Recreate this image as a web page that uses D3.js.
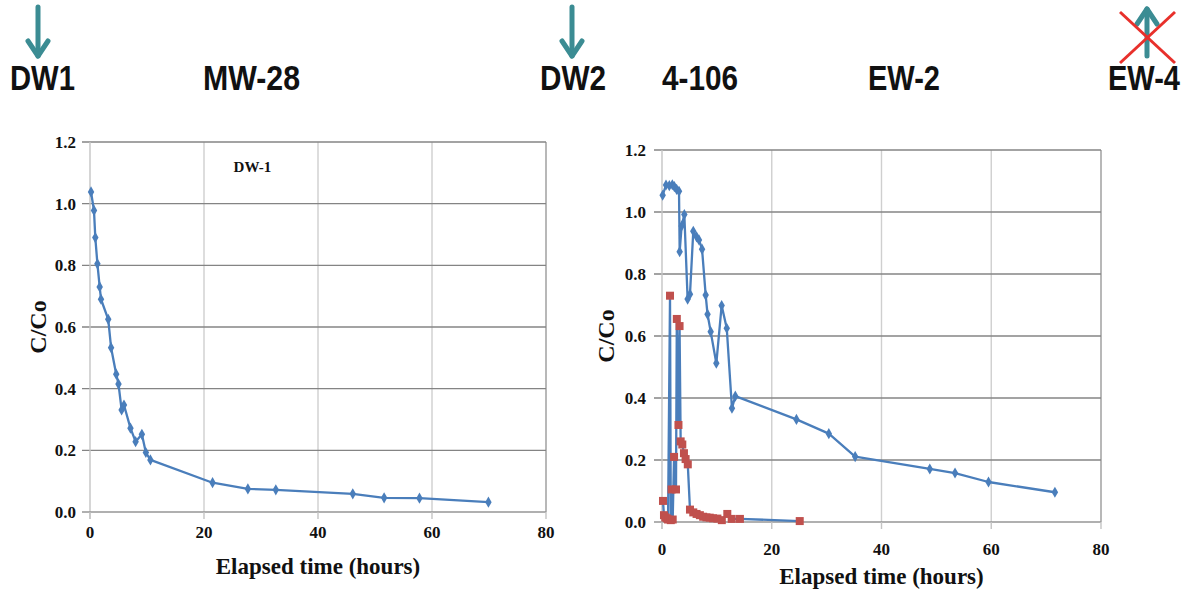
<!DOCTYPE html>
<html><head><meta charset="utf-8">
<script src="https://cdn.jsdelivr.net/npm/d3@7"></script>
<style>html,body{margin:0;padding:0;background:#fff;}svg{display:block;}</style>
</head><body>
<svg id="c" width="1192" height="594"></svg>
<script>
// ---- data ----
const dw1X = [0.18,0.7,0.93,1.3,1.7,1.93,3.2,3.7,4.6,5.0,5.55,5.96,7.1,8.0,9.1,9.8,10.6,21.5,27.7,32.6,46.1,51.6,57.8,69.9];
const dw1Y = [1.038,0.978,0.89,0.805,0.73,0.69,0.625,0.533,0.447,0.415,0.331,0.347,0.272,0.228,0.252,0.193,0.169,0.095,0.075,0.072,0.059,0.046,0.045,0.032];

const dw2X = [0.12,0.73,1.33,1.88,2.25,2.67,3.1,3.22,3.58,4.07,4.67,5.1,5.7,6.3,6.74,7.3,7.96,8.3,8.87,9.9,10.87,11.8,12.75,13.36,24.5,30.4,35.2,48.8,53.4,59.5,71.6];
const dw2Y = [1.054,1.087,1.085,1.088,1.082,1.073,1.067,0.872,0.955,0.992,0.719,0.735,0.938,0.92,0.91,0.88,0.732,0.67,0.614,0.512,0.698,0.625,0.367,0.406,0.331,0.285,0.211,0.171,0.158,0.129,0.096];

const redX = [0.18,0.36,0.6,0.85,1.1,1.46,1.6,1.75,1.95,2.2,2.55,2.7,3.0,3.2,3.4,3.7,4.0,4.3,4.7,5.1,5.7,6.3,6.9,7.5,8.1,8.7,9.3,10.1,10.9,11.9,12.7,14.2,25.1];
const redY = [0.068,0.022,0.015,0.012,0.008,0.73,0.006,0.105,0.008,0.21,0.105,0.655,0.313,0.632,0.26,0.25,0.222,0.203,0.186,0.04,0.031,0.026,0.022,0.017,0.015,0.014,0.012,0.011,0.006,0.026,0.01,0.01,0.003];

const xTicks = [0,20,40,60,80];
const yTicks = [0,0.2,0.4,0.6,0.8,1.0,1.2];
const topLabels = ["DW1","MW-28","DW2","4-106","EW-2","EW-4"];

// ---- drawing ----
const svg = d3.select("#c");
const blue = "#4a7ebb", red = "#c0504d", teal = "#3b8c93";
const serif = "'Liberation Serif','Times New Roman',serif";
const sans = "'Liberation Sans',Arial,sans-serif";

// top labels
const labelPos = [[10,65],[203,97],[540,66],[662,76],[868,72],[1108,72]];
topLabels.forEach((t,i)=>{
  svg.append("g").attr("transform",`translate(${labelPos[i][0]},90) scale(1,1.18)`)
    .append("text").attr("x",0).attr("y",0)
    .attr("font-family",sans).attr("font-weight","bold").attr("font-size",30)
    .attr("textLength",labelPos[i][1]).attr("lengthAdjust","spacingAndGlyphs")
    .attr("fill","#111").text(t);
});
// arrows
function arrow(x,y1,y2){
  const g = svg.append("g").attr("stroke",teal).attr("stroke-width",5).attr("fill","none").attr("stroke-linecap","round").attr("stroke-linejoin","round");
  g.append("line").attr("x1",x).attr("x2",x).attr("y1",y1).attr("y2",y2);
  const d = y2>y1?-1:1;
  g.append("path").attr("d",`M${x-10},${y2+d*15}L${x},${y2}L${x+10},${y2+d*15}`);
}
arrow(38,7,56);
arrow(572,7,56);
arrow(1147,56,9);
svg.append("g").attr("stroke","#e8302b").attr("stroke-width",3)
  .call(g=>{g.append("line").attr("x1",1120).attr("y1",12).attr("x2",1175).attr("y2",63);
            g.append("line").attr("x1",1175).attr("y1",12).attr("x2",1120).attr("y2",63);});

function chart(cfg){
  const x = d3.scaleLinear().domain([0,80]).range([cfg.x0,cfg.x1]);
  const y = d3.scaleLinear().domain([0,1.2]).range([cfg.y0,cfg.y1]);
  const g = svg.append("g");
  g.selectAll(".vg").data(xTicks.slice(1)).join("line")
    .attr("x1",d=>x(d)).attr("x2",d=>x(d)).attr("y1",y(1.2)).attr("y2",y(0))
    .attr("stroke",d=>d===80?"#9a9a9a":"#cfcfcf").attr("stroke-width",1.4);
  g.selectAll(".hg").data(yTicks.slice(1)).join("line")
    .attr("x1",x(0)-8).attr("x2",x(80)).attr("y1",d=>y(d)).attr("y2",d=>y(d))
    .attr("stroke","#848484").attr("stroke-width",1.4);
  g.append("line").attr("x1",x(0)).attr("x2",x(0)).attr("y1",y(1.2)).attr("y2",y(0)+7)
    .attr("stroke","#c4c4c4").attr("stroke-width",1.4);
  g.append("line").attr("x1",x(0)-8).attr("x2",x(80)).attr("y1",y(0)).attr("y2",y(0))
    .attr("stroke","#969696").attr("stroke-width",1.4);
  g.selectAll(".xt").data(xTicks).join("line")
    .attr("x1",d=>x(d)).attr("x2",d=>x(d)).attr("y1",y(0)).attr("y2",y(0)+7)
    .attr("stroke","#c4c4c4").attr("stroke-width",1.4);
  g.selectAll(".xl").data(xTicks).join("text")
    .attr("x",d=>x(d)).attr("y",y(0)+cfg.xlOff).attr("text-anchor","middle")
    .attr("font-family",serif).attr("font-weight","bold").attr("font-size",17).attr("fill","#111")
    .text(d=>d);
  g.selectAll(".yl").data(yTicks).join("text")
    .attr("x",x(0)-cfg.ylOff).attr("y",d=>y(d)+6).attr("text-anchor","end")
    .attr("font-family",serif).attr("font-weight","bold").attr("font-size",17).attr("fill","#111")
    .text(d=>d.toFixed(1));
  g.append("text").attr("x",(x(0)+x(80))/2).attr("y",cfg.xtY).attr("text-anchor","middle")
    .attr("font-family",serif).attr("font-weight","bold").attr("font-size",23).attr("fill","#111")
    .text("Elapsed time (hours)");
  g.append("text").attr("transform",`translate(${cfg.ytX},${(y(0)+y(1.2))/2}) rotate(-90)`)
    .attr("text-anchor","middle")
    .attr("font-family",serif).attr("font-weight","bold").attr("font-size",24).attr("fill","#111")
    .text("C/Co");
  const line = d3.line().x(d=>x(d[0])).y(d=>y(d[1]));
  cfg.series.forEach(s=>{
    const pts = s.x.map((v,i)=>[v,s.y[i]]);
    g.append("path").attr("d",line(pts)).attr("fill","none").attr("stroke",blue).attr("stroke-width",2.3).attr("stroke-linejoin","round");
    if(s.marker==="diamond"){
      g.selectAll(null).data(pts).join("path")
        .attr("d",d3.symbol().type(d3.symbolDiamond).size(36))
        .attr("transform",d=>`translate(${x(d[0])},${y(d[1])})`).attr("fill",blue);
    } else {
      g.selectAll(null).data(pts).join("rect")
        .attr("x",d=>x(d[0])-4).attr("y",d=>y(d[1])-4).attr("width",8).attr("height",8)
        .attr("fill",red);
    }
  });
  return {g,x,y};
}

const left = chart({x0:90,x1:546,y0:512,y1:142,xlOff:26,ylOff:14,xtY:574,ytX:46,
  series:[{x:dw1X,y:dw1Y,marker:"diamond"}]});
left.g.append("text").attr("x",left.x(28.5)).attr("y",left.y(1.12)+5).attr("text-anchor","middle")
  .attr("font-family",serif).attr("font-weight","bold").attr("font-size",15).attr("fill","#111").text("DW-1");

chart({x0:662,x1:1101,y0:522,y1:150,xlOff:33,ylOff:16,xtY:584,ytX:614,
  series:[{x:redX,y:redY,marker:"square"},{x:dw2X,y:dw2Y,marker:"diamond"}]});
</script>
</body></html>
